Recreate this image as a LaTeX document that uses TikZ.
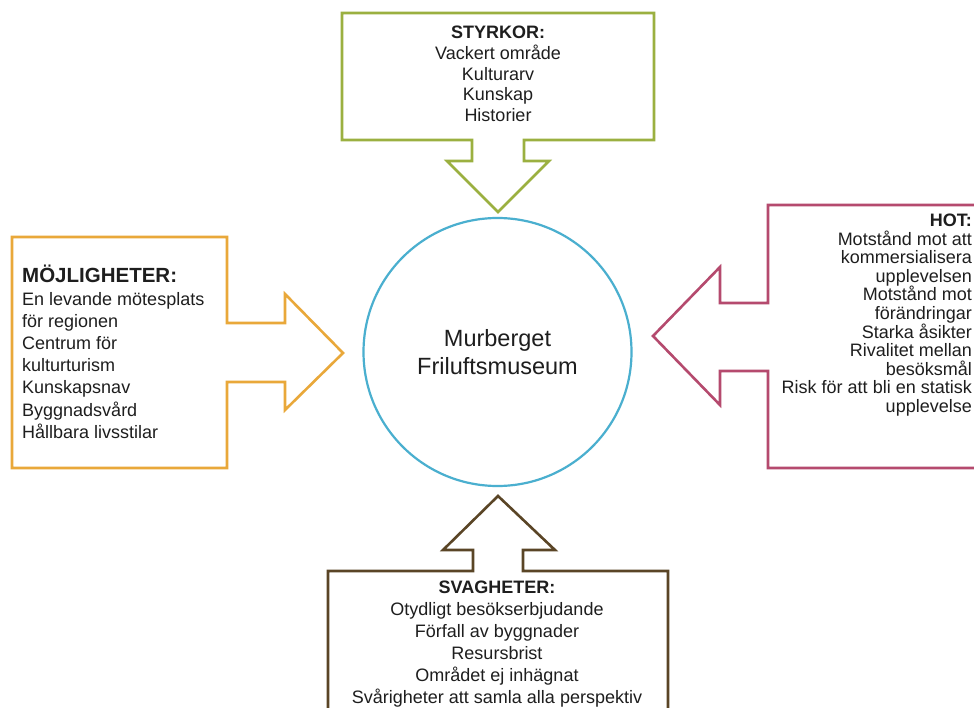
\documentclass[tikz,border=0pt]{standalone}
\usepackage{fontspec}
\setmainfont{Liberation Sans}
\definecolor{cgreen}{HTML}{9BB040}
\definecolor{corange}{HTML}{E9A83A}
\definecolor{ccrimson}{HTML}{B54A6E}
\definecolor{cbrown}{HTML}{5A4526}
\definecolor{cblue}{HTML}{4AAFCF}
\definecolor{ctext}{HTML}{1E1E1E}
\tikzset{
  swotshape/.style={line width=2.6pt, line join=miter, fill=white},
  swottext/.style={inner sep=0pt, text=ctext, font=\fontsize{18}{22}\selectfont},
}
\begin{document}
\begin{tikzpicture}[x=1pt,y=-1pt]
\useasboundingbox (0,0) rectangle (974,708);
\fill[white] (0,0) rectangle (974,708);

% top (green) box with down arrow
\draw[swotshape, draw=cgreen] (342,13) -- (654,13) -- (654,140) -- (524,140) -- (524,161)
  -- (549,161) -- (498,212) -- (447,161) -- (472,161) -- (472,140) -- (342,140) -- cycle;
% left (orange) box with right arrow
\draw[swotshape, draw=corange] (12,237) -- (227,237) -- (227,323) -- (285,323) -- (285,294)
  -- (343,353) -- (285,410) -- (285,382) -- (227,382) -- (227,468) -- (12,468) -- cycle;
% right (crimson) box with left arrow
\draw[swotshape, draw=ccrimson] (990,205) -- (768,205) -- (768,303) -- (720,303) -- (720,267)
  -- (653,336) -- (720,405) -- (720,371) -- (768,371) -- (768,468) -- (990,468);
% bottom (brown) box with up arrow
\draw[swotshape, draw=cbrown] (328,720) -- (328,571) -- (473,571) -- (473,550) -- (443,550)
  -- (498,496) -- (555,550) -- (523,550) -- (523,571) -- (668,571) -- (668,720);

% centre circle
\node[circle, draw=cblue, line width=2.2pt, minimum size=268pt, inner sep=0pt,
      align=center, text=ctext, font=\fontsize{23.5}{28}\selectfont] (center) at (497.5,352)
  {\raisebox{-2pt}{\parbox{200pt}{\centering Murberget\\Friluftsmuseum}}};

% texts
\node[swottext, align=center, font=\fontsize{18}{20.8}\selectfont] (styrkor) at (498,74)
  {\textbf{STYRKOR:}\\Vackert område\\Kulturarv\\Kunskap\\Historier};

\node[swottext, align=left, anchor=west, font=\fontsize{18}{22.2}\selectfont] (mojligheter) at (22,352)
  {{\fontsize{20.5}{22.2}\selectfont\textbf{MÖJLIGHETER:}}\\En levande mötesplats\\för regionen\\Centrum för\\kulturturism\\Kunskapsnav\\Byggnadsvård\\Hållbara livsstilar};

\node[swottext, align=right, anchor=east, font=\fontsize{18}{18.6}\selectfont] (hot) at (972,315)
  {\textbf{HOT:}\\Motstånd mot att\\kommersialisera\\upplevelsen\\Motstånd mot\\förändringar\\Starka åsikter\\Rivalitet mellan\\besöksmål\\Risk för att bli en statisk\\upplevelse};

\node[swottext, align=center, font=\fontsize{18}{22}\selectfont] (svagheter) at (497,644)
  {\textbf{SVAGHETER:}\\Otydligt besökserbjudande\\Förfall av byggnader\\Resursbrist\\Området ej inhägnat\\Svårigheter att samla alla perspektiv};
\end{tikzpicture}
\end{document}
